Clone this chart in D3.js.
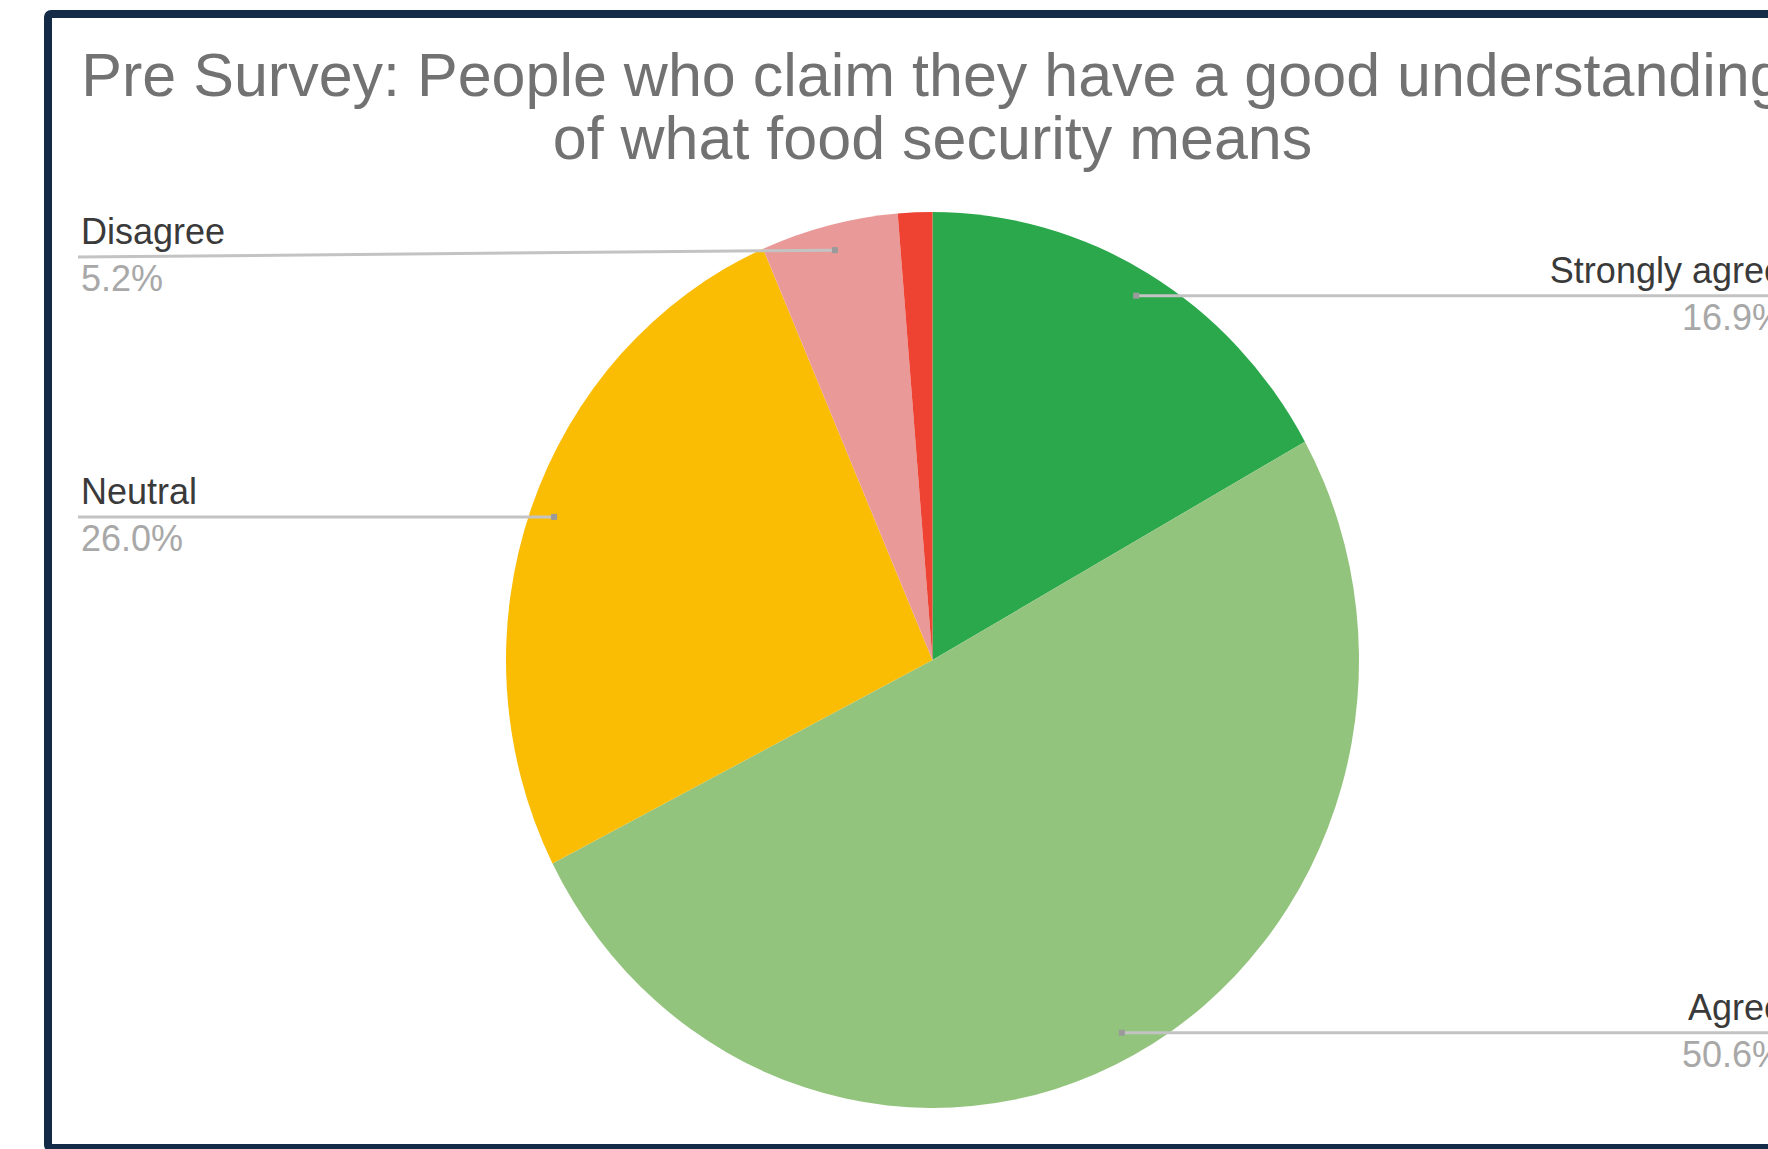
<!DOCTYPE html>
<html>
<head>
<meta charset="utf-8">
<script src="https://cdn.jsdelivr.net/npm/d3@7"></script>
<style>
  html, body { margin: 0; padding: 0; background: #ffffff; }
  svg { display: block; }
</style>
</head>
<body>
<script>
// Survey responses, clockwise from 12 o'clock
const categories = ["Strongly agree", "Agree", "Neutral", "Disagree", "Strongly disagree"];
const percentages = [16.9, 50.6, 26.0, 5.2, 1.3];
const sliceColors = ["#2ba84c", "#93c47d", "#fbbc04", "#ea9999", "#ee4232"];
const titleLines = [
  "Pre Survey: People who claim they have a good understanding",
  "of what food security means"
];

const W = 1768, H = 1149;
const cx = 932.5, cy = 660, rx = 426.5, ry = 448;
const font = "'Liberation Sans', Arial, sans-serif";

const svg = d3.select("body").append("svg")
  .attr("width", W).attr("height", H);

// panel frame
svg.append("rect")
  .attr("x", 48).attr("y", 14)
  .attr("width", 1800).attr("height", 1134)
  .attr("rx", 3)
  .attr("fill", "#ffffff")
  .attr("stroke", "#142b47")
  .attr("stroke-width", 8);

// title
svg.append("g").selectAll("text")
  .data(titleLines)
  .join("text")
  .attr("x", cx)
  .attr("y", (d, i) => 96 + i * 63)
  .attr("text-anchor", "middle")
  .attr("font-family", font)
  .attr("font-size", 61)
  .attr("fill", "#727272")
  .text(d => d);

const rows = categories.map((c, i) => ({ name: c, value: percentages[i], color: sliceColors[i] }));

const pie = d3.pie().sort(null).value(d => d.value);
const arcs = pie(rows);
const arc = d3.arc().innerRadius(0).outerRadius(rx);

// pie drawn on a circle, stretched vertically into the ellipse
svg.append("g")
  .attr("transform", `translate(${cx},${cy}) scale(1,${ry / rx})`)
  .selectAll("path")
  .data(arcs)
  .join("path")
  .attr("d", arc)
  .attr("fill", d => d.data.color);

// leader lines and labels
const fmt = d => d.toFixed(1) + "%";
const leaderK = 0.943;
const leftX = 78, rightX = 1784;
const minLineY = 257;

const labelled = arcs.filter(d => d.data.value >= 2);
const lg = svg.append("g");

labelled.forEach(d => {
  const a = (d.startAngle + d.endAngle) / 2;
  const px = cx + leaderK * rx * Math.sin(a);
  const py = cy - leaderK * ry * Math.cos(a);
  const left = Math.sin(a) < 0;
  const ly = Math.max(py, minLineY);
  const ex = left ? leftX : rightX;

  lg.append("line")
    .attr("x1", px).attr("y1", py)
    .attr("x2", ex).attr("y2", ly)
    .attr("stroke", "#c3c3c3")
    .attr("stroke-width", 3);

  lg.append("rect")
    .attr("x", px - 3).attr("y", py - 3)
    .attr("width", 6).attr("height", 6)
    .attr("fill", "#9a9a9a");

  const tx = left ? leftX + 3 : rightX;
  const anchor = left ? "start" : "end";

  lg.append("text")
    .attr("x", tx).attr("y", ly - 13)
    .attr("text-anchor", anchor)
    .attr("font-family", font)
    .attr("font-size", 36)
    .attr("fill", "#3a3a3a")
    .text(d.data.name);

  lg.append("text")
    .attr("x", tx).attr("y", ly + 34)
    .attr("text-anchor", anchor)
    .attr("font-family", font)
    .attr("font-size", 36)
    .attr("fill", "#a8a8a8")
    .text(fmt(d.data.value));
});
</script>
</body>
</html>
